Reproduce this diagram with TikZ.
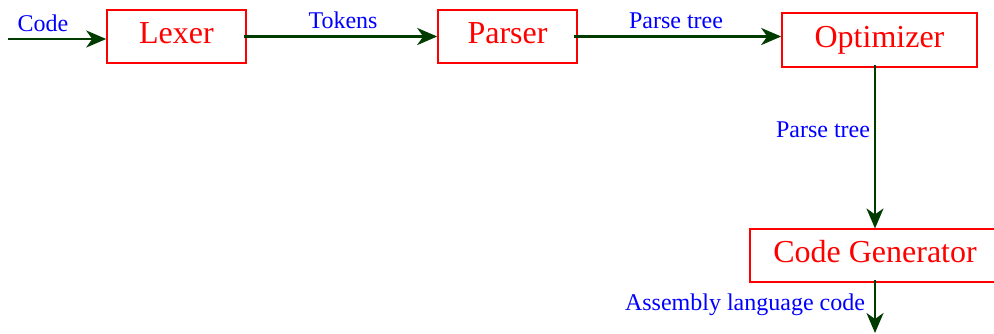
\documentclass[tikz,border=0pt]{standalone}
\usepackage{fontspec}
\setmainfont{Liberation Serif}
\usetikzlibrary{arrows.meta}
\definecolor{arrowgreen}{RGB}{0,60,0}
\definecolor{boxred}{RGB}{255,0,0}
\definecolor{lblblue}{RGB}{0,0,255}
\tikzset{
  stage/.style={draw=boxred, line width=1.6pt, text=boxred, inner sep=0pt,
    font=\fontsize{32}{36}\selectfont, text height=22pt, text depth=8pt},
  flow/.style={draw=arrowgreen, line width=2.4pt,
    -{Stealth[length=20pt, width=17pt, inset=6pt]}},
  lbl/.style={text=lblblue, inner sep=0pt, anchor=base,
    font=\fontsize{24}{28}\selectfont}
}
\begin{document}
\begin{tikzpicture}[x=1pt,y=-1pt]
\useasboundingbox (0,0) rectangle (994,333);
\clip (0,0) rectangle (994,333);
\node[stage, minimum width=139pt, minimum height=53pt] (lexer) at (176.5,36.5) {Lexer};
\node[stage, minimum width=139pt, minimum height=53pt] (parser) at (507.5,36.5) {Parser};
\node[stage, minimum width=195pt, minimum height=54pt] (opt) at (879.5,40) {Optimizer};
\node[stage, minimum width=250pt, minimum height=52.5pt] (cg) at (875,255.5) {Code Generator};
\coordinate (cin) at (8,39);
\coordinate (cout) at (875,333);
\draw[flow] (cin) -- (cin -| lexer.west);
\draw[flow] ([xshift=-3pt]lexer.east) -- (parser.west);
\draw[flow] ([xshift=-4pt]parser.east) -- (parser.east -| opt.west);
\draw[flow] ([yshift=3pt]opt.south -| cg.north) -- (cg.north);
\draw[flow] ([yshift=3pt]cg.south) -- (cout);
\node[lbl] (lcode) at (43,31) {Code};
\node[lbl] (ltok) at (343,28) {Tokens};
\node[lbl] (lpt1) at (676,28.3) {Parse tree};
\node[lbl] (lpt2) at (823,137) {Parse tree};
\node[lbl] (lasm) at (745,310.7) {Assembly language code};
\end{tikzpicture}
\end{document}
